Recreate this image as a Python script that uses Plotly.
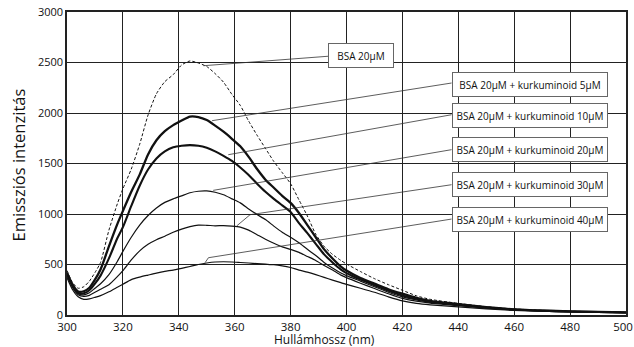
import plotly.graph_objects as go

wavelength = [300, 302, 304, 306, 308, 310, 312, 315, 318, 320, 323, 326, 329, 332, 335, 338, 341, 344, 347, 350,
              353, 356, 359, 362, 365, 368, 371, 374, 377, 380, 383, 386, 389, 392, 395, 398, 400, 405, 410, 415,
              420, 425, 430, 440, 450, 460, 470, 480, 490, 500]

bsa = [440, 320, 265, 280, 335, 420, 520, 840, 1100, 1250, 1445, 1690, 1980, 2190, 2310, 2380, 2475, 2515, 2495, 2460,
       2390, 2305, 2185, 2075, 1920, 1780, 1650, 1520, 1410, 1300, 1140, 980, 800, 680, 600, 540, 505, 430, 360, 300,
       245, 190, 155, 115, 82, 60, 46, 38, 31, 27]

k5 = [420, 300, 232, 235, 270, 350, 450, 680, 900, 1030, 1220, 1390, 1590, 1730, 1820, 1880, 1925, 1965, 1960, 1930,
      1875, 1815, 1745, 1670, 1565, 1445, 1340, 1260, 1180, 1110, 1010, 890, 770, 650, 560, 480, 440, 365, 310, 255,
      211, 170, 140, 108, 78, 56, 44, 36, 30, 26]

k10 = [410, 290, 220, 215, 245, 310, 390, 560, 760, 870, 1080, 1280, 1440, 1550, 1620, 1660, 1675, 1682, 1675, 1655,
       1620, 1575, 1525, 1460, 1385, 1300, 1220, 1150, 1085, 1020, 910, 810, 705, 600, 520, 450, 415, 350, 295, 240,
       194, 160, 132, 103, 75, 54, 43, 35, 29, 25]

k20 = [400, 280, 210, 200, 220, 265, 310, 400, 530, 630, 770, 890, 985, 1060, 1115, 1150, 1180, 1210, 1225, 1228,
       1215, 1190, 1150, 1110, 1050, 995, 945, 880, 820, 770, 715, 650, 590, 520, 465, 415, 390, 335, 280, 225,
       180, 150, 125, 98, 72, 52, 42, 34, 29, 25]

k30 = [390, 270, 200, 185, 195, 225, 255, 300, 380, 440, 545, 635, 700, 745, 780, 820, 850, 875, 890, 888,
       883, 885, 880, 870, 840, 795, 750, 710, 675, 650, 620, 580, 540, 490, 445, 395, 370, 315, 262, 210,
       165, 138, 118, 92, 68, 50, 40, 33, 28, 24]

k40 = [370, 250, 180, 155, 160, 175, 192, 230, 275, 305, 350, 375, 395, 415, 432, 445, 462, 480, 500, 515,
       525, 527, 525, 520, 515, 508, 503, 498, 487, 470, 445, 425, 400, 372, 345, 320, 303, 265, 225, 180,
       140, 115, 100, 80, 60, 45, 37, 30, 26, 22]

labels = ["BSA 20μM",
          "BSA 20μM + kurkuminoid 5μM",
          "BSA 20μM + kurkuminoid 10μM",
          "BSA 20μM + kurkuminoid 20μM",
          "BSA 20μM + kurkuminoid 30μM",
          "BSA 20μM + kurkuminoid 40μM"]

x_ticks = [300, 320, 340, 360, 380, 400, 420, 440, 460, 480, 500]
y_ticks = [0, 500, 1000, 1500, 2000, 2500, 3000]

series = [bsa, k5, k10, k20, k30, k40]
styles = [dict(width=1, dash="3px,2px"), dict(width=2.3), dict(width=2.1),
          dict(width=1.2), dict(width=1.2), dict(width=1.2)]

fig = go.Figure()
for vals, st, name in zip(series, styles, labels):
    fig.add_trace(go.Scatter(x=wavelength, y=vals, mode="lines", name=name,
                             line=dict(color="#111", shape="spline", smoothing=0.6, **st),
                             hoverinfo="x+y+name"))

# label boxes (center positions in data units) and leader lines
box_pos = [(405.2, 2574, 60), (465.7, 2287, 150), (465.7, 1980, 150),
           (465.7, 1634, 150), (465.7, 1292, 150), (465.7, 950, 150)]
leaders = [
    [(393.5, 2562), (348.8, 2468)],
    [(437.6, 2297), (351.9, 1924)],
    [(437.6, 1983), (357.7, 1587)],
    [(437.6, 1637), (352.3, 1234)],
    [(437.6, 1290), (365.5, 993), (360.8, 884)],
    [(437.6, 950), (350.6, 567), (349.4, 518)],
]
for pts in leaders:
    path = "M " + " L ".join(f"{a},{b}" for a, b in pts)
    fig.add_shape(type="path", path=path, xref="x", yref="y",
                  line=dict(color="#333", width=0.8), layer="above")

for (bx, by, w), txt in zip(box_pos, labels):
    fig.add_annotation(x=bx, y=by, xref="x", yref="y", text=txt, showarrow=False,
                       font=dict(family="Open Sans", size=10, color="#111"),
                       bgcolor="white", bordercolor="#666", borderwidth=1,
                       borderpad=1, width=w + 2, height=21, align="center",
                       xanchor="center", yanchor="middle")

fig.add_annotation(text="Emissziós intenzitás", xref="paper", yref="paper",
                   x=-0.087, y=0.495, showarrow=False, textangle=-90,
                   font=dict(family="Open Sans", size=16.5, color="#111"),
                   xanchor="center", yanchor="middle")
fig.add_annotation(text="Hullámhossz (nm)", xref="paper", yref="paper",
                   x=0.4615, y=-0.082, showarrow=False, borderpad=0,
                   font=dict(family="Open Sans", size=12, color="#111"),
                   xanchor="center", yanchor="middle")

x_ticktext = [str(t) for t in x_ticks]
x_ticktext[-1] = x_ticktext[-1] + "&nbsp;&nbsp;"

fig.update_xaxes(range=[300, 500], tickvals=x_ticks, ticktext=x_ticktext,
                 showgrid=True, gridcolor="#222", gridwidth=1, zeroline=False,
                 showline=True, linecolor="#222", linewidth=1.5, mirror=True,
                 ticks="", ticklabeloverflow="allow", ticklabelstandoff=0,
                 automargin=False,
                 tickfont=dict(family="Open Sans", size=11.5, color="#111"))
fig.update_yaxes(range=[0, 3000], tickvals=y_ticks, ticktext=[str(t) for t in y_ticks],
                 showgrid=True, gridcolor="#222", gridwidth=1, zeroline=False,
                 showline=True, linecolor="#222", linewidth=1.5, mirror=True,
                 ticks="", ticklabeloverflow="allow", automargin=False,
                 tickfont=dict(family="Open Sans", size=11, color="#111"))

fig.update_layout(width=634, height=347, margin=dict(l=67, r=8, t=12, b=32, autoexpand=False),
                  paper_bgcolor="white", plot_bgcolor="white", showlegend=False,
                  font=dict(family="Open Sans", color="#111"))

page_css = (
    "var s=document.createElement('style');"
    "s.textContent='html,body{margin:0;padding:0;overflow:hidden;width:634px;height:347px;}"
    " .plotly-graph-div{overflow:hidden;}';"
    "document.head.appendChild(s);"
)
fig.write_html("out.html", config={"displayModeBar": False, "responsive": False},
               post_script=page_css)
